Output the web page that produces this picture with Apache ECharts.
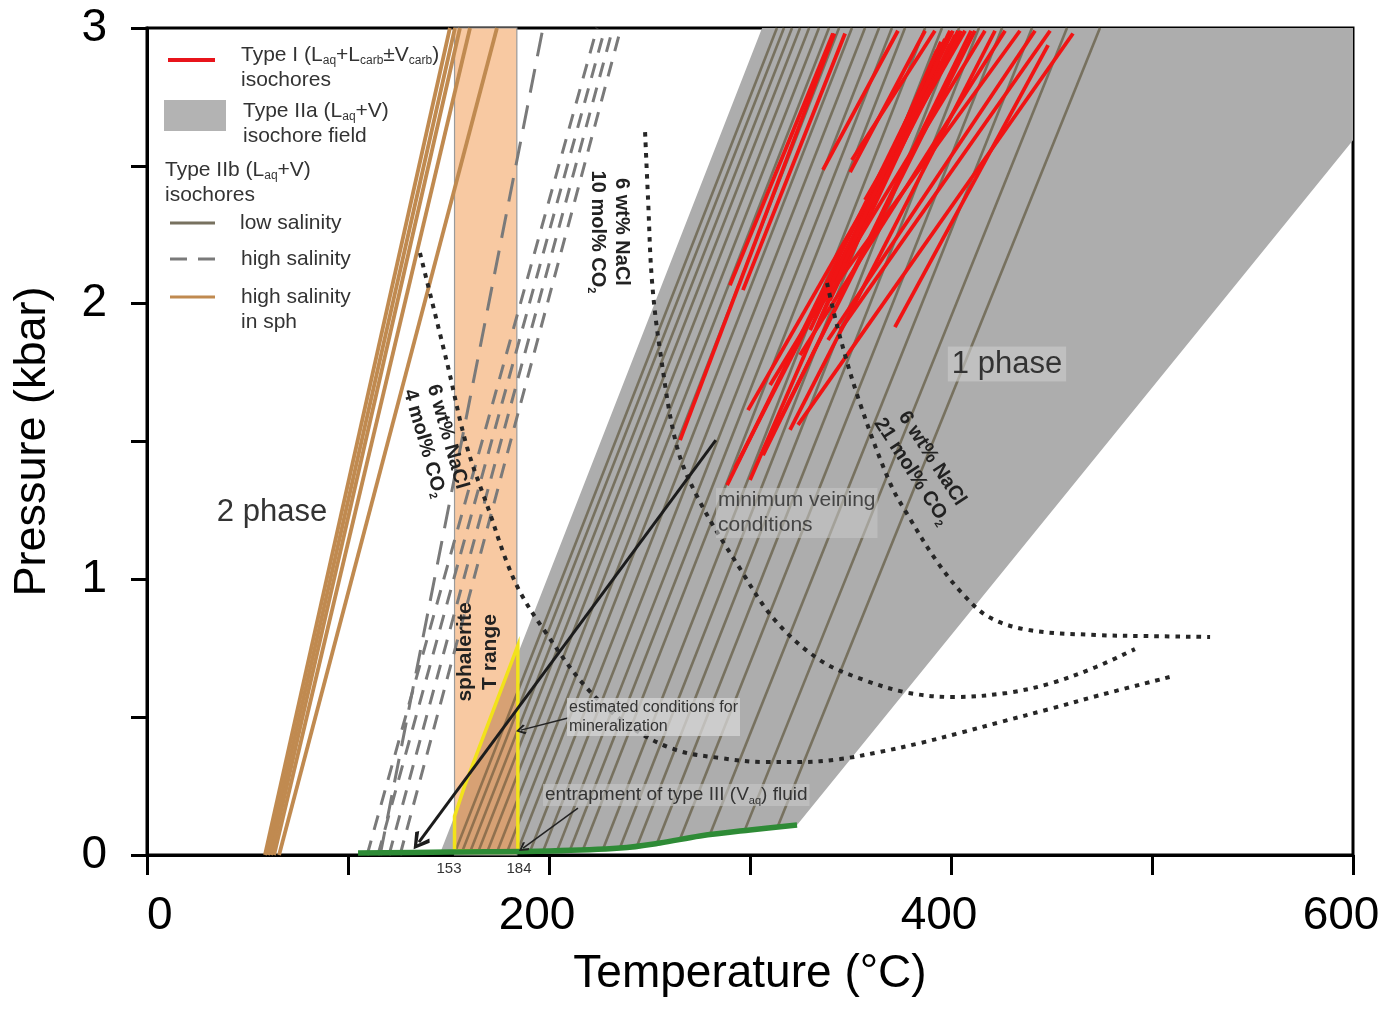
<!DOCTYPE html>
<html>
<head>
<meta charset="utf-8">
<title>P-T diagram</title>
<script src="https://cdn.jsdelivr.net/npm/echarts@6.0.0/dist/echarts.min.js"></script>
<style>
  html, body { margin: 0; padding: 0; background: #fff; }
  #main { width: 1389px; height: 1015px; }
</style>
</head>
<body>
<div id="main"></div>
<script>
const FN = '"Liberation Sans Narrow","Liberation Sans",Arial,sans-serif'
const FR = '"Liberation Sans",Arial,sans-serif'

// axis labels that are printed
const xLabelValues = [0, 200, 400, 600]
const yLabelValues = [0, 1, 2, 3]

// sphalerite homogenisation range (°C)
const sphaleriteRange = [153, 184]

// Type I isochores [T1, P1, T2, P2]
const typeIIsochores = [
  [265.2, 1.505, 342.0, 2.98],
  [290.0, 2.067, 341.3, 2.98],
  [296.5, 2.049, 347.3, 2.98],
  [336.3, 2.485, 373.6, 2.99],
  [349.8, 2.477, 387.1, 2.99],
  [350.7, 2.521, 392.0, 2.99],
  [288.6, 1.342, 399.5, 2.99],
  [292.5, 1.404, 403.5, 2.99],
  [299.0, 1.614, 407.0, 2.99],
  [306.5, 1.458, 411.9, 2.99],
  [310.0, 1.705, 416.9, 2.99],
  [319.9, 1.542, 421.9, 2.99],
  [324.9, 1.814, 426.9, 2.99],
  [329.9, 1.941, 434.3, 2.99],
  [338.8, 1.868, 441.8, 2.99],
  [344.8, 1.904, 449.3, 2.99],
  [323.9, 1.560, 460.7, 2.98],
  [372.1, 1.915, 448.3, 2.938],
  [339.8, 2.013, 399.5, 2.94],
  [344.8, 2.086, 397.0, 2.96],
  [334.8, 1.941, 394.5, 2.88],
  [349.8, 2.194, 402.0, 2.974],
  [329.9, 1.904, 389.6, 2.85],
  [357.2, 2.376, 404.5, 2.974],
  [300.0, 1.360, 395.0, 2.95],
  [306.5, 1.450, 410.0, 2.99],
  [360.0, 2.350, 405.0, 2.99],
  [352.0, 2.250, 398.0, 2.95],
  [364.0, 2.450, 401.0, 2.99],
  [347.0, 2.150, 393.0, 2.92]
]

// Type IIa isochore field outline [T, P]
const fieldIIa = [
  [146, 0.01], [200.5, 0.0145], [235.3, 0.025], [255.2, 0.0435], [275.1, 0.069],
  [300, 0.091], [323.4, 0.109], [600, 2.593], [600, 3], [306, 3]
]

// Type IIb isochores, low salinity [T1, P1, T2, P2]
const lowSalinity = [
  [153.2, 0.01, 313.4, 3], [156.7, 0.01, 316.9, 3], [160.7, 0.01, 320.9, 3],
  [164.7, 0.01, 324.9, 3], [169.2, 0.01, 329.4, 3], [174.1, 0.01, 334.3, 3],
  [179.1, 0.01, 339.3, 3], [184.1, 0.01, 344.3, 3], [190.5, 0.012, 350.7, 3],
  [197.0, 0.013, 357.2, 3], [204.0, 0.015, 364.2, 3], [210.4, 0.017, 370.6, 3],
  [216.9, 0.019, 377.1, 3], [226.9, 0.022, 387.1, 3], [235.3, 0.026, 395.5, 3],
  [243.8, 0.033, 404.0, 3], [253.7, 0.042, 413.9, 3], [265.2, 0.058, 425.4, 3],
  [280.1, 0.075, 440.3, 3], [297.5, 0.092, 457.7, 3], [313.9, 0.105, 474.1, 3]
]

// Type IIb isochores, high salinity
const highSalinity = [
  [109.5, 0, 223.9, 3], [114.9, 0, 227.9, 3], [120.4, 0, 231.8, 3], [125.9, 0, 235.8, 3]
]
const highSalinityLong = [[116, 0, 197, 3]]

// high salinity isochores in sphalerite
const sphSalinity = [
  [58.7, 0, 150.7, 3], [60.2, 0, 153.2, 3], [61.7, 0, 155.7, 3],
  [63.2, 0, 160.7, 3], [65.7, 0, 174.1, 3]
]

// estimated conditions for mineralization
const mineralization = [[153, 0.015], [153, 0.14], [158, 0.25], [184.5, 0.76], [184.5, 0.015]]

// entrapment of type III fluid
const entrapment = [
  [105, 0.007], [150.7, 0.011], [200.5, 0.0145], [235.3, 0.025],
  [255.2, 0.0435], [275.1, 0.069], [300, 0.091], [323.4, 0.109]
]

// solvus curves, 6 wt% NaCl
const co2mol4 = [
  [135.8, 2.184], [149.3, 1.785], [159.2, 1.48], [170.6, 1.24], [178.6, 1.07],
  [185.6, 0.954], [196.5, 0.827], [218.4, 0.609], [240.8, 0.464], [263.2, 0.381],
  [285.1, 0.352], [307.5, 0.337], [324.9, 0.337], [344.8, 0.348], [364.7, 0.374],
  [384.6, 0.406], [404.5, 0.443], [424.4, 0.482], [449.3, 0.53], [474.1, 0.58],
  [509.0, 0.646]
]
const co2mol10 = [
  [247.8, 2.622], [249.3, 2.376], [251.2, 2.086], [255.2, 1.832], [263.7, 1.48],
  [274.6, 1.288], [294.5, 1.045], [312.4, 0.852], [334.8, 0.707], [356.7, 0.635],
  [379.1, 0.588], [401.5, 0.573], [427.9, 0.588], [450.2, 0.624], [472.1, 0.682],
  [491.5, 0.747]
]
const co2mol21 = [
  [338.3, 2.075], [344.8, 1.879], [354.7, 1.639], [369.7, 1.349], [379.1, 1.226],
  [392.5, 1.07], [405.5, 0.95], [418.9, 0.863], [438.8, 0.816], [472.1, 0.798],
  [499.0, 0.794], [528.9, 0.791]
]

// arrows [T1, P1, T2, P2]
const veiningArrow = [[283, 1.505, 135.3, 0.047]]
const noteArrows = [[209.5, 0.497, 186, 0.453], [214.4, 0.17, 187.1, 0.025]]

const chevron = 'path://M10,0 L20,12 L17,14.5 L10,5 L3,14.5 L0,12 Z'

function segs(arr) {
  return arr.map(d => ({ coords: [[d[0], d[1]], [d[2], d[3]]] }))
}
function segSeries(arr, lineStyle, z, extra) {
  return Object.assign({
    type: 'lines', coordinateSystem: 'cartesian2d', silent: true, z,
    data: segs(arr), symbol: 'none',
    lineStyle: Object.assign({ opacity: 1, curveness: 0 }, lineStyle)
  }, extra || {})
}
function polySeries(points, style, z) {
  return {
    type: 'custom', silent: true, z, data: [[0, 0]],
    renderItem: (params, api) => ({
      type: 'polygon',
      shape: { points: points.map(p => api.coord(p)) },
      style
    })
  }
}
function curveSeries(points, lineStyle, z) {
  return {
    type: 'line', silent: true, z, data: points, smooth: 0.35,
    showSymbol: false, symbol: 'none', lineStyle
  }
}

const subs = { fontSize: 12, verticalAlign: 'bottom', lineHeight: 12, fontFamily: FR }
function txt(x, y, text, style, extra) {
  return Object.assign({
    type: 'text', x, y, z: 100, silent: true,
    style: Object.assign({
      text, fill: '#333', fontSize: 21, fontFamily: FR,
      align: 'left', verticalAlign: 'middle'
    }, style)
  }, extra || {})
}
function boldLabel(x, y, deg, num) {
  return txt(x, y, '{b|6 wt% NaCl}\n{b|' + num + ' mol% CO}{s|2}', {
    align: 'center', fill: '#222',
    rich: {
      b: { fontSize: 20, fontWeight: 'bold', fontFamily: FR, lineHeight: 24 },
      s: { fontSize: 11, fontWeight: 'bold', verticalAlign: 'bottom', lineHeight: 11, fontFamily: FR }
    }
  }, { rotation: deg * Math.PI / 180 })
}

const chart = echarts.init(document.getElementById('main'))
chart.setOption({
  animation: false,
  backgroundColor: '#fff',
  grid: {
    left: 147, right: 36, top: 28, bottom: 160,
    show: true, borderColor: '#000', borderWidth: 3
  },
  xAxis: {
    type: 'value', min: 0, max: 600, interval: 100,
    name: 'Temperature (°C)', nameLocation: 'middle', nameGap: 96,
    nameTextStyle: { fontSize: 46, fontFamily: FN, color: '#000' },
    axisLine: { lineStyle: { color: '#000', width: 3 } },
    axisTick: { length: 20, lineStyle: { color: '#000', width: 3 } },
    axisLabel: {
      fontSize: 46, fontFamily: FN, color: '#000', margin: 38, padding: [0, 24, 0, 0],
      alignMinLabel: 'left',
      formatter: v => (xLabelValues.includes(v) ? String(v) : '')
    },
    splitLine: { show: false }
  },
  yAxis: {
    type: 'value', min: 0, max: 3, interval: 0.5,
    name: 'Pressure (kbar)', nameLocation: 'middle', nameGap: 92, nameRotate: 90,
    nameTextStyle: { fontSize: 45, fontFamily: FN, color: '#000' },
    axisLine: { lineStyle: { color: '#000', width: 3 } },
    axisTick: { length: 16, lineStyle: { color: '#000', width: 3 } },
    axisLabel: {
      fontSize: 46, fontFamily: FN, color: '#000', margin: 40,
      formatter: v => (yLabelValues.includes(v) ? String(v) : '')
    },
    splitLine: { show: false }
  },
  series: [
    polySeries(fieldIIa, { fill: '#adadad' }, 1),
    polySeries([[sphaleriteRange[0], 0], [sphaleriteRange[1], 0], [sphaleriteRange[1], 3], [sphaleriteRange[0], 3]],
      { fill: '#f8c9a2', stroke: '#9a9a9a', lineWidth: 1.2 }, 2),
    segSeries(lowSalinity, { color: '#77715f', width: 2.6 }, 3),
    segSeries(sphSalinity, { color: '#c08a50', width: 3.8 }, 3),
    segSeries(highSalinity, { color: '#7a7a7a', width: 3, type: [15, 11] }, 3),
    segSeries(highSalinityLong, { color: '#7a7a7a', width: 3, type: [24, 13] }, 3),
    polySeries(mineralization, { fill: 'rgba(176,112,60,0.45)', stroke: '#f2e21a', lineWidth: 3.5 }, 4),
    segSeries(typeIIsochores, { color: '#f01414', width: 3.8 }, 5),
    curveSeries(co2mol4, { color: '#262626', width: 4, type: [4.5, 6], cap: 'butt' }, 6),
    curveSeries(co2mol10, { color: '#262626', width: 4, type: [4.5, 6], cap: 'butt' }, 6),
    curveSeries(co2mol21, { color: '#262626', width: 4, type: [4.5, 6], cap: 'butt' }, 6),
    curveSeries(entrapment, { color: '#2e8b36', width: 5.5 }, 7),
    segSeries(veiningArrow, { color: '#1c1c1c', width: 3 }, 8,
      { symbol: ['none', chevron], symbolSize: [22, 18] }),
    segSeries(noteArrows, { color: '#222', width: 1.5 }, 8,
      { symbol: ['none', chevron], symbolSize: [12, 10] })
  ],
  graphic: [
    // legend
    { type: 'line', z: 100, silent: true, shape: { x1: 168, y1: 60, x2: 215, y2: 60 }, style: { stroke: '#e8141b', lineWidth: 4 } },
    txt(241, 55, '{a|Type I (L}{s|aq}{a|+L}{s|carb}{a|±V}{s|carb}{a|)}', {
      rich: { a: { fontSize: 21, fontFamily: FR, lineHeight: 24 }, s: subs }
    }),
    txt(241, 80, 'isochores'),
    { type: 'rect', z: 100, silent: true, shape: { x: 164, y: 100, width: 62, height: 31 }, style: { fill: '#b3b3b3' } },
    txt(243, 111, '{a|Type IIa (L}{s|aq}{a|+V)}', {
      rich: { a: { fontSize: 21, fontFamily: FR, lineHeight: 24 }, s: subs }
    }),
    txt(243, 136, 'isochore field'),
    txt(165, 170, '{a|Type IIb (L}{s|aq}{a|+V)}', {
      rich: { a: { fontSize: 21, fontFamily: FR, lineHeight: 24 }, s: subs }
    }),
    txt(165, 195, 'isochores'),
    { type: 'line', z: 100, silent: true, shape: { x1: 170, y1: 223, x2: 215, y2: 223 }, style: { stroke: '#77715f', lineWidth: 3 } },
    txt(240, 223, 'low salinity'),
    { type: 'line', z: 100, silent: true, shape: { x1: 170, y1: 259, x2: 215, y2: 259 }, style: { stroke: '#7a7a7a', lineWidth: 3, lineDash: [17, 11] } },
    txt(241, 259, 'high salinity'),
    { type: 'line', z: 100, silent: true, shape: { x1: 170, y1: 297, x2: 215, y2: 297 }, style: { stroke: '#c08a50', lineWidth: 3 } },
    txt(241, 297, 'high salinity'),
    txt(241, 322, 'in sph'),

    // field labels
    txt(272, 512, '2 phase', { fontSize: 31, align: 'center' }),
    txt(1007, 364, '1 phase', { fontSize: 31, align: 'center', backgroundColor: 'rgba(205,205,205,0.6)', padding: [2, 4, 2, 4] }),
    txt(716, 488, 'minimum veining\nconditions', {
      fontSize: 21, fontFamily: FN, lineHeight: 25, verticalAlign: 'top', fill: '#444',
      backgroundColor: 'rgba(200,200,200,0.55)', padding: [0, 2, 0, 2]
    }),
    txt(567, 698, 'estimated conditions for\nmineralization', {
      fontSize: 16, fontFamily: FN, lineHeight: 19, verticalAlign: 'top', fill: '#333',
      backgroundColor: 'rgba(215,215,215,0.75)', padding: [0, 2, 0, 2]
    }),
    txt(543, 795, '{a|entrapment of type III (V}{s|aq}{a|) fluid}', {
      backgroundColor: 'rgba(200,200,200,0.6)', padding: [0, 2, 0, 2],
      rich: { a: { fontSize: 19, fontFamily: FN, lineHeight: 22 }, s: { fontSize: 11, fontFamily: FN, verticalAlign: 'bottom', lineHeight: 11 } }
    }),
    txt(478, 652, 'sphalerite\nT range', {
      align: 'center', fontSize: 21, fontWeight: 'bold', lineHeight: 25, fill: '#222'
    }, { rotation: Math.PI / 2 }),
    boldLabel(436, 440, -74, 4),
    boldLabel(610, 232, -90, 10),
    boldLabel(922, 465, -57, 21),
    txt(449, 869, '153', { fontSize: 15, fontFamily: FN, align: 'center' }),
    txt(519, 869, '184', { fontSize: 15, fontFamily: FN, align: 'center' })
  ]
})
</script>
</body>
</html>
